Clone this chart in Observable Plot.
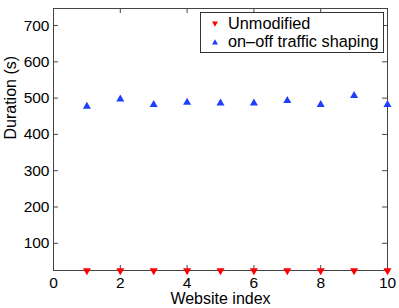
<!DOCTYPE html>
<html>
<head>
<meta charset="utf-8">
<script src="https://cdn.jsdelivr.net/npm/d3@7"></script>
<script src="https://cdn.jsdelivr.net/npm/@observablehq/plot@0.6"></script>
<style>
  html, body { margin: 0; padding: 0; background: #fff; }
  #wrap { position: relative; width: 399px; height: 308px; font-family: "Liberation Sans", Arial, Helvetica, sans-serif; }
  #legend { position: absolute; left: 200px; top: 12px; width: 184px; height: 41px; border: 1px solid #333; background: #fff; box-sizing: border-box; font-size: 16.3px; color: #000; }
  .row { position: absolute; left: 0; height: 19px; line-height: 19px; white-space: nowrap; }
  .row svg { position: absolute; left: 11px; top: 7px; }
  .row span { position: absolute; left: 27px; }
</style>
</head>
<body>
<div id="wrap"></div>
<script>
const sites = [1, 2, 3, 4, 5, 6, 7, 8, 9, 10];
const unmodified = [25, 25, 25, 25, 25, 25, 25, 25, 25, 25];
const shaping = [477, 497, 482, 488, 486, 486, 493, 482, 507, 482];
const xTicks = [0, 2, 4, 6, 8, 10];
const yTicks = [100, 200, 300, 400, 500, 600, 700];
const seriesNames = ["Unmodified", "on\u2013off traffic shaping"];
const colors = ["#ff0000", "#1f3fff"];

const W = 399, H = 308, mL = 53, mR = 12, mT = 8, mB = 38;
const fw = W - mL - mR, fh = H - mT - mB, tk = 5;

const rowsU = sites.map((s, i) => ({site: s, value: unmodified[i]}));
const rowsS = sites.map((s, i) => ({site: s, value: shaping[i]}));

const chart = Plot.plot({
  width: W, height: H,
  marginLeft: mL, marginRight: mR, marginTop: mT, marginBottom: mB,
  style: {fontFamily: '"Liberation Sans", Arial, Helvetica, sans-serif', fontSize: "15px", color: "#000", background: "#fff"},
  x: {domain: [0, 10]},
  y: {domain: [25, 747]},
  marks: [
    Plot.frame({stroke: "#444"}),
    Plot.ruleX(xTicks, {x: d => d, insetTop: fh - tk, stroke: "#444"}),
    Plot.ruleX(xTicks, {x: d => d, insetBottom: fh - tk, stroke: "#444"}),
    Plot.ruleY(yTicks, {y: d => d, insetRight: fw - tk, stroke: "#444"}),
    Plot.ruleY(yTicks, {y: d => d, insetLeft: fw - tk, stroke: "#444"}),
    Plot.axisX(xTicks, {tickSize: 0, tickPadding: 6, label: null, fontSize: 15.5, fill: "#000"}),
    Plot.axisY(yTicks, {tickSize: 0, tickPadding: 4, label: null, fontSize: 15.5, fill: "#000"}),
    Plot.text(["Duration (s)"], {frameAnchor: "left", dx: -43, rotate: -90, fontSize: 16, fill: "#000"}),
    Plot.text(["Website index"], {frameAnchor: "bottom", lineAnchor: "bottom", dy: 33, fontSize: 16, fill: "#000"}),
    Plot.dot(rowsU, {x: "site", y: "value", symbol: "triangle", rotate: 180, r: 3, fill: colors[0], stroke: null}),
    Plot.dot(rowsS, {x: "site", y: "value", symbol: "triangle", r: 3, fill: colors[1], stroke: null})
  ]
});

const wrap = document.getElementById("wrap");
wrap.appendChild(chart);

const legend = document.createElement("div");
legend.id = "legend";
seriesNames.forEach((name, i) => {
  const row = document.createElement("div");
  row.className = "row";
  row.style.top = (i === 0 ? 1 : 19) + "px";
  const rot = i === 0 ? 'transform="rotate(180 3 3)"' : '';
  row.innerHTML = `<svg width="6" height="6"><path d="M3,0.3L6,5.5H0Z" fill="${colors[i]}" ${rot}/></svg><span>${name}</span>`;
  legend.appendChild(row);
});
wrap.appendChild(legend);
</script>
</body>
</html>
